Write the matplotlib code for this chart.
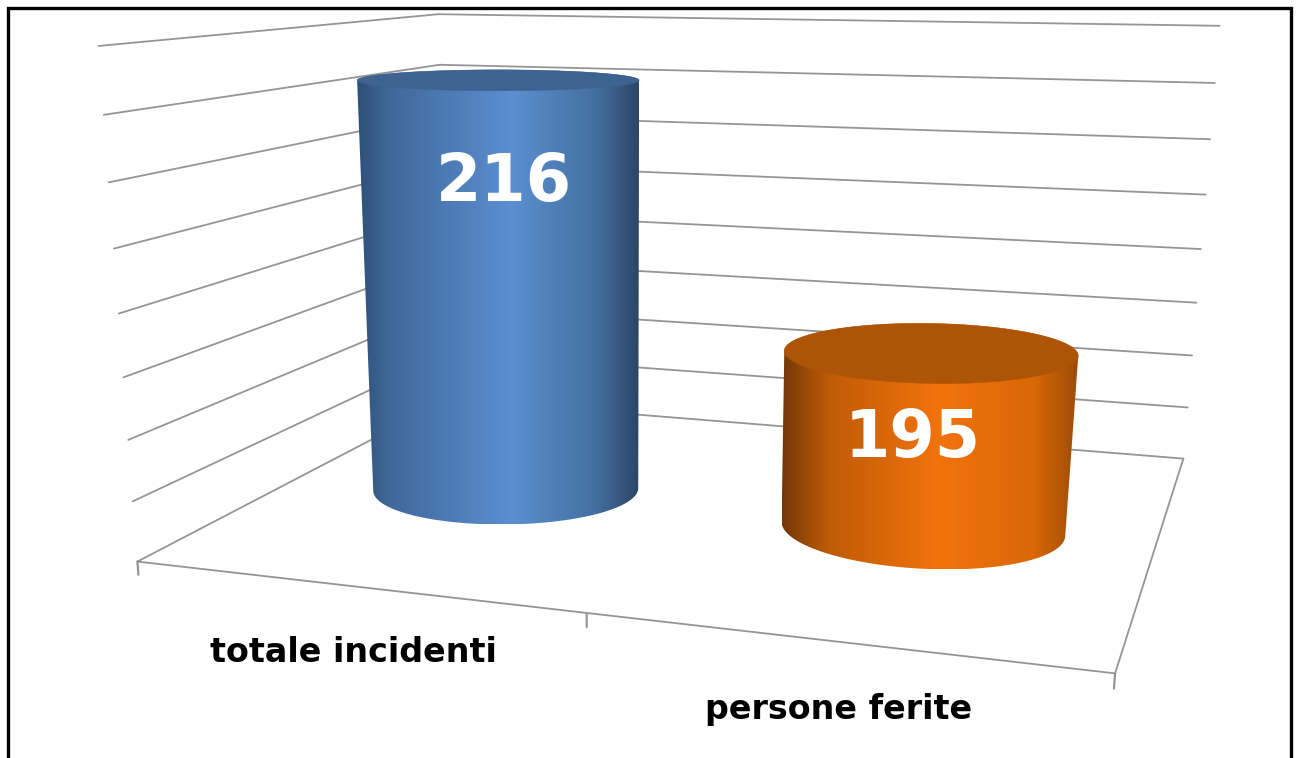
import numpy as np
import matplotlib
matplotlib.use("Agg")
import matplotlib.pyplot as plt
from matplotlib.colors import LinearSegmentedColormap
from matplotlib.patches import Polygon

# data
categories = ["totale incidenti", "persone ferite"]
values = [216, 195]
axis_min = 180
axis_max = 220
axis_step = 5

# look
wall_color = "#959595"
blue_side = [(0, "#2f5078"), (0.12, "#41699b"), (0.55, "#5b8fd1"), (0.85, "#44709f"), (1, "#2c4668")]
blue_top = "#3e6391"
orange_side = [(0, "#743805"), (0.16, "#c05c08"), (0.53, "#f2730c"), (0.85, "#d96807"), (1, "#9c4c06")]
orange_top = "#ae5407"
side_colors = [blue_side, orange_side]
top_colors = [blue_top, orange_top]

# box corners in the picture: (category pos, depth, value) -> pixel
box_world = [(0, 0, 180), (2, 0, 180), (2, 1, 180), (0, 1, 180),
             (0, 0, 220), (0, 1, 220), (2, 1, 220)]
box_pixels = [(139, 561), (1115, 674), (1184, 458), (447, 400),
              (97, 46), (440, 14), (1219, 26)]

# cylinders: spot on the floor and ellipse sizes in pixels
bar_pos = [0.512, 1.505]
bar_depth = [0.485, 0.487]
top_a = [141, 147]
top_b = [10.5, 30]
top_tilt = [0, 1]
base_a = [132.5, 142]
base_b = [35, 40]
base_tilt = [-0.6, 3]

label_pos = [0.512, 1.505]
label_value = [207.3, 187.6]
label_shift = [(0, 0), (-16, 0)]
cat_label_pos = [(353, 653), (839, 709)]


def fit_camera(world, pixels):
    rows = []
    rhs = []
    for (x, y, z), (u, v) in zip(world, pixels):
        z = (z - axis_min) / (axis_max - axis_min)
        rows.append([x, y, z, 1, 0, 0, 0, 0, -u * x, -u * y, -u * z])
        rows.append([0, 0, 0, 0, x, y, z, 1, -v * x, -v * y, -v * z])
        rhs += [u, v]
    sol = np.linalg.lstsq(np.array(rows, float), np.array(rhs, float), rcond=None)[0]
    return np.append(sol, 1).reshape(3, 4)


camera = fit_camera(box_world, box_pixels)


def project(x, y, z):
    x, y, z = np.broadcast_arrays(x, y, z)
    z = (z - axis_min) / (axis_max - axis_min)
    pts = np.stack([x, y, z, np.ones_like(z)], axis=0).astype(float)
    res = camera @ pts.reshape(4, -1)
    return np.stack([res[0] / res[2], res[1] / res[2]], axis=-1)


def line3d(ax, p0, p1, lw=1.3):
    ends = project(*np.array([p0, p1], float).T)
    ax.plot(ends[:, 0], ends[:, 1], color=wall_color, lw=lw, zorder=1,
            solid_capstyle="round")


def ellipse(center, a, b, tilt):
    t = np.linspace(0, 2 * np.pi, 181)
    tilt = np.radians(tilt)
    ex = a * np.cos(t)
    ey = b * np.sin(t)
    return np.column_stack([center[0] + ex * np.cos(tilt) - ey * np.sin(tilt),
                            center[1] + ex * np.sin(tilt) + ey * np.cos(tilt)])


def hull(points):
    pts = sorted(set(map(tuple, points)))
    def half(seq):
        out = []
        for p in seq:
            while len(out) > 1 and ((out[-1][0] - out[-2][0]) * (p[1] - out[-2][1])
                                    - (out[-1][1] - out[-2][1]) * (p[0] - out[-2][0])) <= 0:
                out.pop()
            out.append(p)
        return out[:-1]
    return np.array(half(pts) + half(pts[::-1]))


def cylinder(ax, i, value):
    top = ellipse(project(bar_pos[i], bar_depth[i], float(value))[0],
                  top_a[i], top_b[i], top_tilt[i])
    base = ellipse(project(bar_pos[i], bar_depth[i], float(axis_min))[0],
                   base_a[i], base_b[i], base_tilt[i])
    outline = hull(np.vstack([top, base]))
    left, right = outline[:, 0].min(), outline[:, 0].max()
    cmap = LinearSegmentedColormap.from_list("side", side_colors[i])
    grad = np.linspace(0, 1, 400)[None, :]
    im = ax.imshow(grad, cmap=cmap, aspect="auto", zorder=3, interpolation="bilinear",
                   extent=(left, right, outline[:, 1].max(), outline[:, 1].min()))
    im.set_clip_path(Polygon(outline, transform=ax.transData))
    ax.fill(top[:, 0], top[:, 1], color=top_colors[i], lw=0.3, zorder=4)


fig = plt.figure(figsize=(12.98, 7.58), dpi=100)
ax = fig.add_axes([0, 0, 1, 1])
ax.axis("off")

# frame, open at the bottom
ax.plot([8, 8, 1291, 1291], [758, 8, 8, 758], color="black", lw=2.4,
        solid_joinstyle="miter", zorder=6)

# walls
for tick in range(axis_min, axis_max + axis_step, axis_step):
    line3d(ax, (0, 0, tick), (0, 1, tick))
    line3d(ax, (0, 1, tick), (2, 1, tick))

# floor
line3d(ax, (0, 0, axis_min), (2, 0, axis_min))
line3d(ax, (2, 0, axis_min), (2, 1, axis_min))
for pos in range(3):
    line3d(ax, (pos, 0, axis_min), (pos, 0, axis_min - 1.1), lw=1.6)

# bars and labels
for i, val in enumerate(values):
    cylinder(ax, i, val)
    px = project(label_pos[i], 0.5, label_value[i])[0]
    ax.text(px[0] + label_shift[i][0], px[1] + label_shift[i][1], str(val),
            color="white", fontsize=47, fontweight="bold", family="DejaVu Sans",
            ha="center", va="center", zorder=5)
    ax.text(cat_label_pos[i][0], cat_label_pos[i][1], categories[i], color="black",
            fontsize=24, fontweight="bold", family="DejaVu Sans",
            ha="center", va="center", zorder=5)

ax.set_xlim(0, 1298)
ax.set_ylim(758, 0)

fig.savefig("out.png", dpi=100)
